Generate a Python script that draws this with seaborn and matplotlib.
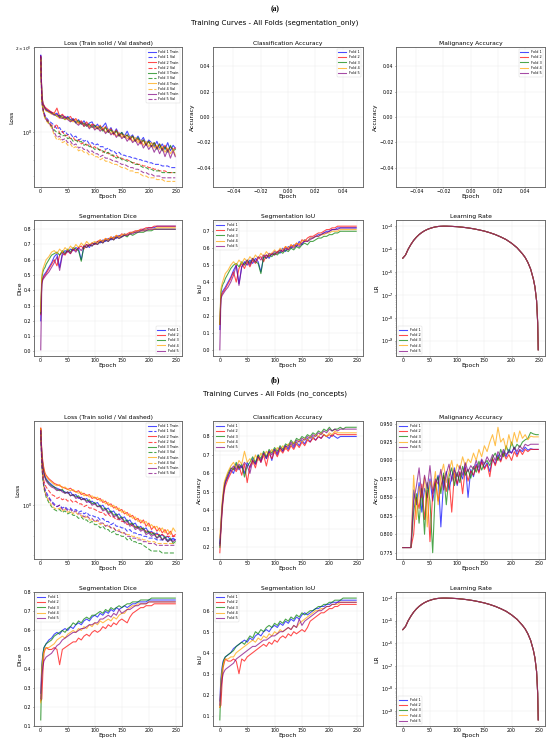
import matplotlib
matplotlib.use("Agg")
import matplotlib.pyplot as plt
import seaborn as sns

FOLD_COLORS = ["blue", "red", "green", "orange", "purple"]
FOLDS = ["Fold 1", "Fold 2", "Fold 3", "Fold 4", "Fold 5"]

EPOCHS = [0, 2, 4, 6, 8, 10,
          15, 20, 25, 30, 35, 40, 45, 50, 55, 60,
          65, 70, 75, 80, 85, 90, 95, 100, 105, 110,
          115, 120, 125, 130, 135, 140, 145, 150, 155, 160,
          165, 170, 175, 180, 185, 190, 195, 200, 205, 210,
          215, 220, 225, 230, 235, 240, 245, 249]

# ---------------- (a) segmentation_only ----------------
a_loss_train = [
    [1.88, 1.36, 1.26, 1.24, 1.22, 1.21,
     1.19, 1.18, 1.16, 1.17, 1.13, 1.15, 1.12, 1.14, 1.11, 1.12,
     1.09, 1.11, 1.07, 1.10, 1.06, 1.08, 1.09, 1.04, 1.07, 1.03,
     1.05, 1.08, 1.01, 1.04, 0.99, 1.03, 0.98, 1.00, 0.97, 1.01,
     0.96, 0.98, 0.94, 0.97, 0.93, 0.96, 0.91, 0.94, 0.92, 0.89,
     0.93, 0.88, 0.91, 0.87, 0.92, 0.86, 0.90, 0.88],
    [1.86, 1.38, 1.27, 1.25, 1.23, 1.22,
     1.20, 1.18, 1.17, 1.22, 1.14, 1.16, 1.13, 1.12, 1.14, 1.10,
     1.12, 1.08, 1.10, 1.06, 1.09, 1.05, 1.07, 1.06, 1.03, 1.06,
     1.02, 1.05, 1.00, 1.03, 0.98, 1.02, 0.97, 0.99, 0.96, 0.98,
     0.94, 0.97, 0.93, 0.95, 0.91, 0.94, 0.90, 0.93, 0.89, 0.92,
     0.88, 0.91, 0.87, 0.90, 0.86, 0.89, 0.87, 0.88],
    [1.84, 1.37, 1.25, 1.23, 1.21, 1.20,
     1.18, 1.17, 1.16, 1.14, 1.15, 1.13, 1.11, 1.13, 1.10, 1.11,
     1.08, 1.10, 1.07, 1.08, 1.05, 1.07, 1.04, 1.06, 1.03, 1.05,
     1.01, 1.04, 1.00, 1.02, 0.99, 1.01, 0.97, 1.00, 0.96, 0.98,
     0.95, 0.97, 0.93, 0.96, 0.92, 0.94, 0.90, 0.93, 0.89, 0.92,
     0.87, 0.91, 0.86, 0.89, 0.85, 0.90, 0.86, 0.87],
    [1.83, 1.35, 1.25, 1.22, 1.21, 1.19,
     1.18, 1.16, 1.17, 1.14, 1.12, 1.14, 1.11, 1.12, 1.10, 1.09,
     1.11, 1.07, 1.09, 1.05, 1.07, 1.04, 1.06, 1.03, 1.05, 1.02,
     1.04, 1.00, 1.03, 0.99, 1.01, 0.97, 1.00, 0.96, 0.98, 0.95,
     0.97, 0.93, 0.96, 0.92, 0.94, 0.90, 0.93, 0.89, 0.92, 0.88,
     0.90, 0.87, 0.89, 0.85, 0.88, 0.84, 0.87, 0.83],
    [1.87, 1.37, 1.26, 1.24, 1.22, 1.20,
     1.19, 1.17, 1.15, 1.16, 1.13, 1.12, 1.14, 1.11, 1.09, 1.11,
     1.08, 1.06, 1.09, 1.05, 1.07, 1.03, 1.06, 1.02, 1.04, 1.01,
     1.03, 0.99, 1.02, 0.98, 1.00, 0.96, 0.99, 0.95, 0.97, 0.93,
     0.96, 0.92, 0.94, 0.90, 0.93, 0.88, 0.91, 0.87, 0.90, 0.85,
     0.89, 0.84, 0.88, 0.82, 0.87, 0.81, 0.86, 0.82],
]
a_loss_val = [
    [1.88, 1.30, 1.22, 1.18, 1.15, 1.13,
     1.10, 1.08, 1.06, 1.03, 1.04, 1.00, 1.01, 0.98, 0.99, 0.96,
     0.97, 0.94, 0.95, 0.93, 0.94, 0.91, 0.92, 0.90, 0.91, 0.89,
     0.89, 0.87, 0.88, 0.86, 0.86, 0.84, 0.85, 0.83, 0.83, 0.82,
     0.82, 0.81, 0.81, 0.80, 0.80, 0.79, 0.79, 0.78, 0.78, 0.77,
     0.77, 0.77, 0.76, 0.76, 0.76, 0.75, 0.75, 0.75],
    [1.86, 1.31, 1.22, 1.17, 1.14, 1.12,
     1.09, 1.06, 1.04, 1.07, 0.99, 1.01, 0.97, 0.98, 0.95, 0.96,
     0.93, 0.94, 0.91, 0.92, 0.90, 0.91, 0.88, 0.89, 0.87, 0.87,
     0.85, 0.86, 0.84, 0.84, 0.82, 0.83, 0.81, 0.81, 0.80, 0.80,
     0.79, 0.78, 0.78, 0.77, 0.77, 0.76, 0.76, 0.75, 0.75, 0.74,
     0.74, 0.73, 0.73, 0.73, 0.72, 0.72, 0.72, 0.72],
    [1.84, 1.29, 1.21, 1.16, 1.13, 1.11,
     1.08, 1.05, 1.02, 1.00, 0.99, 0.97, 0.98, 0.95, 0.96, 0.93,
     0.94, 0.92, 0.93, 0.90, 0.91, 0.89, 0.89, 0.87, 0.88, 0.86,
     0.86, 0.84, 0.85, 0.83, 0.83, 0.81, 0.82, 0.80, 0.80, 0.79,
     0.79, 0.78, 0.77, 0.77, 0.76, 0.75, 0.75, 0.74, 0.74, 0.73,
     0.73, 0.73, 0.72, 0.72, 0.72, 0.72, 0.72, 0.72],
    [1.83, 1.28, 1.20, 1.15, 1.12, 1.10,
     1.07, 1.04, 0.98, 0.94, 0.95, 0.92, 0.93, 0.90, 0.91, 0.88,
     0.89, 0.86, 0.87, 0.85, 0.85, 0.83, 0.84, 0.82, 0.82, 0.80,
     0.81, 0.79, 0.79, 0.78, 0.77, 0.77, 0.76, 0.75, 0.75, 0.74,
     0.73, 0.73, 0.72, 0.72, 0.71, 0.70, 0.70, 0.69, 0.69, 0.69,
     0.68, 0.68, 0.68, 0.67, 0.67, 0.67, 0.67, 0.67],
    [1.87, 1.30, 1.21, 1.16, 1.13, 1.11,
     1.08, 1.05, 1.00, 0.96, 0.97, 0.94, 0.95, 0.92, 0.93, 0.90,
     0.91, 0.88, 0.89, 0.87, 0.87, 0.85, 0.86, 0.84, 0.84, 0.82,
     0.83, 0.81, 0.81, 0.80, 0.79, 0.79, 0.78, 0.77, 0.77, 0.76,
     0.75, 0.75, 0.74, 0.74, 0.73, 0.72, 0.72, 0.71, 0.71, 0.70,
     0.70, 0.70, 0.69, 0.69, 0.69, 0.69, 0.69, 0.69],
]
a_dice = [
    [0.20, 0.46, 0.48, 0.50, 0.51, 0.52,
     0.55, 0.58, 0.62, 0.64, 0.55, 0.64, 0.66, 0.65, 0.67, 0.66,
     0.68, 0.67, 0.60, 0.69, 0.70, 0.68, 0.71, 0.70, 0.72, 0.71,
     0.73, 0.72, 0.74, 0.73, 0.75, 0.74, 0.76, 0.75, 0.77, 0.76,
     0.77, 0.78, 0.78, 0.79, 0.79, 0.80, 0.80, 0.81, 0.81, 0.81,
     0.82, 0.82, 0.82, 0.82, 0.82, 0.82, 0.82, 0.82],
    [0.24, 0.45, 0.48, 0.49, 0.50, 0.51,
     0.54, 0.57, 0.60, 0.56, 0.63, 0.65, 0.63, 0.66, 0.64, 0.67,
     0.66, 0.68, 0.69, 0.67, 0.70, 0.69, 0.71, 0.70, 0.72, 0.73,
     0.72, 0.74, 0.73, 0.75, 0.74, 0.76, 0.75, 0.77, 0.76, 0.77,
     0.78, 0.78, 0.79, 0.79, 0.80, 0.80, 0.81, 0.81, 0.81, 0.82,
     0.82, 0.82, 0.82, 0.82, 0.82, 0.82, 0.82, 0.82],
    [0.25, 0.48, 0.52, 0.54, 0.55, 0.57,
     0.60, 0.63, 0.64, 0.65, 0.63, 0.66, 0.64, 0.67, 0.65, 0.68,
     0.67, 0.66, 0.59, 0.69, 0.68, 0.70, 0.69, 0.71, 0.70, 0.72,
     0.71, 0.73, 0.72, 0.74, 0.73, 0.75, 0.74, 0.75, 0.76, 0.75,
     0.77, 0.76, 0.77, 0.78, 0.78, 0.78, 0.79, 0.79, 0.79, 0.80,
     0.80, 0.80, 0.80, 0.80, 0.80, 0.80, 0.80, 0.80],
    [0.26, 0.50, 0.54, 0.56, 0.58, 0.60,
     0.62, 0.65, 0.66, 0.64, 0.67, 0.65, 0.68, 0.66, 0.69, 0.67,
     0.70, 0.68, 0.71, 0.69, 0.72, 0.70, 0.71, 0.72, 0.71, 0.73,
     0.72, 0.74, 0.73, 0.75, 0.74, 0.76, 0.75, 0.76, 0.77, 0.76,
     0.77, 0.78, 0.78, 0.79, 0.79, 0.79, 0.80, 0.80, 0.80, 0.80,
     0.81, 0.81, 0.81, 0.81, 0.81, 0.81, 0.81, 0.81],
    [0.01, 0.44, 0.47, 0.48, 0.49, 0.50,
     0.52, 0.55, 0.58, 0.62, 0.53, 0.63, 0.64, 0.66, 0.64, 0.67,
     0.65, 0.68, 0.66, 0.69, 0.68, 0.70, 0.69, 0.71, 0.70, 0.72,
     0.71, 0.73, 0.72, 0.74, 0.73, 0.75, 0.74, 0.75, 0.76, 0.76,
     0.77, 0.77, 0.78, 0.78, 0.79, 0.79, 0.79, 0.80, 0.80, 0.80,
     0.80, 0.80, 0.80, 0.80, 0.80, 0.80, 0.80, 0.80],
]
a_iou = [
    [0.12, 0.32, 0.34, 0.35, 0.36, 0.37,
     0.40, 0.43, 0.47, 0.50, 0.39, 0.49, 0.52, 0.50, 0.53, 0.51,
     0.54, 0.52, 0.46, 0.55, 0.56, 0.54, 0.57, 0.56, 0.58, 0.57,
     0.60, 0.58, 0.61, 0.60, 0.62, 0.61, 0.64, 0.62, 0.65, 0.64,
     0.66, 0.66, 0.67, 0.68, 0.68, 0.69, 0.70, 0.70, 0.71, 0.71,
     0.72, 0.72, 0.72, 0.72, 0.72, 0.72, 0.72, 0.72],
    [0.15, 0.31, 0.33, 0.34, 0.35, 0.36,
     0.39, 0.42, 0.46, 0.40, 0.48, 0.51, 0.48, 0.52, 0.49, 0.53,
     0.51, 0.54, 0.55, 0.52, 0.56, 0.55, 0.57, 0.56, 0.58, 0.59,
     0.58, 0.61, 0.59, 0.62, 0.61, 0.63, 0.62, 0.65, 0.64, 0.66,
     0.67, 0.67, 0.68, 0.69, 0.69, 0.70, 0.71, 0.71, 0.72, 0.72,
     0.73, 0.73, 0.73, 0.73, 0.73, 0.73, 0.73, 0.73],
    [0.15, 0.34, 0.37, 0.39, 0.40, 0.42,
     0.45, 0.48, 0.50, 0.51, 0.49, 0.52, 0.50, 0.53, 0.51, 0.54,
     0.52, 0.51, 0.45, 0.55, 0.54, 0.56, 0.55, 0.57, 0.56, 0.58,
     0.57, 0.59, 0.58, 0.60, 0.59, 0.61, 0.60, 0.62, 0.63, 0.62,
     0.64, 0.64, 0.65, 0.66, 0.66, 0.67, 0.67, 0.68, 0.68, 0.69,
     0.69, 0.70, 0.70, 0.70, 0.70, 0.70, 0.70, 0.70],
    [0.15, 0.36, 0.39, 0.41, 0.43, 0.45,
     0.47, 0.50, 0.52, 0.50, 0.53, 0.51, 0.54, 0.52, 0.55, 0.53,
     0.56, 0.54, 0.57, 0.55, 0.58, 0.56, 0.57, 0.59, 0.57, 0.60,
     0.59, 0.61, 0.60, 0.62, 0.61, 0.63, 0.62, 0.64, 0.65, 0.64,
     0.66, 0.66, 0.67, 0.67, 0.68, 0.68, 0.69, 0.69, 0.70, 0.70,
     0.70, 0.71, 0.71, 0.71, 0.71, 0.71, 0.71, 0.71],
    [0.00, 0.30, 0.32, 0.33, 0.34, 0.35,
     0.37, 0.40, 0.44, 0.50, 0.38, 0.49, 0.51, 0.53, 0.50, 0.54,
     0.52, 0.55, 0.53, 0.56, 0.54, 0.57, 0.56, 0.58, 0.57, 0.59,
     0.58, 0.60, 0.59, 0.61, 0.60, 0.62, 0.61, 0.63, 0.64, 0.64,
     0.65, 0.66, 0.67, 0.67, 0.68, 0.69, 0.69, 0.70, 0.71, 0.71,
     0.71, 0.72, 0.72, 0.72, 0.72, 0.72, 0.72, 0.72],
]

# learning rate (identical for all folds, both runs)
LR_EPOCHS = [0, 5, 10, 15, 20, 25, 30, 35, 40, 45, 50, 55, 60, 65, 70, 75,
             80, 90, 100, 110, 120, 130, 140, 150, 160, 170, 180, 190, 200,
             210, 220, 225, 230, 235, 240, 243, 246, 248, 249]
LR_VALUES = [4.0e-6, 5.5e-6, 1.0e-5, 1.6e-5, 2.4e-5, 3.3e-5, 4.3e-5, 5.3e-5,
             6.3e-5, 7.2e-5, 8.0e-5, 8.7e-5, 9.3e-5, 9.7e-5, 9.9e-5, 1.0e-4,
             9.98e-5, 9.8e-5, 9.5e-5, 9.0e-5, 8.4e-5, 7.7e-5, 6.9e-5, 6.1e-5,
             5.2e-5, 4.3e-5, 3.4e-5, 2.6e-5, 1.8e-5, 1.15e-5, 6.2e-6, 4.3e-6,
             2.6e-6, 1.35e-6, 5.0e-7, 2.2e-7, 5.5e-8, 6.0e-9, 4.0e-10]

# ---------------- (b) no_concepts ----------------
b_loss_train = [
    [1.72, 1.45, 1.33, 1.27, 1.23, 1.21,
     1.18, 1.16, 1.14, 1.13, 1.12, 1.11, 1.10, 1.09, 1.10, 1.07,
     1.08, 1.05, 1.06, 1.04, 1.05, 1.02, 1.03, 1.01, 1.02, 0.99,
     1.00, 0.97, 0.98, 0.95, 0.96, 0.93, 0.94, 0.91, 0.92, 0.89,
     0.90, 0.87, 0.88, 0.85, 0.86, 0.84, 0.85, 0.82, 0.83, 0.81,
     0.82, 0.80, 0.81, 0.79, 0.80, 0.78, 0.79, 0.78],
    [1.74, 1.47, 1.36, 1.30, 1.26, 1.24,
     1.21, 1.19, 1.17, 1.16, 1.15, 1.14, 1.13, 1.12, 1.13, 1.11,
     1.10, 1.11, 1.08, 1.09, 1.07, 1.08, 1.05, 1.06, 1.04, 1.05,
     1.02, 1.03, 1.00, 1.01, 0.98, 0.99, 0.96, 0.97, 0.94, 0.95,
     0.92, 0.93, 0.90, 0.91, 0.88, 0.90, 0.86, 0.88, 0.84, 0.86,
     0.83, 0.85, 0.82, 0.84, 0.81, 0.83, 0.80, 0.81],
    [1.70, 1.44, 1.32, 1.26, 1.22, 1.20,
     1.17, 1.15, 1.14, 1.12, 1.11, 1.12, 1.09, 1.10, 1.07, 1.08,
     1.06, 1.07, 1.04, 1.05, 1.03, 1.04, 1.01, 1.02, 0.99, 1.00,
     0.97, 0.98, 0.95, 0.96, 0.93, 0.94, 0.91, 0.92, 0.89, 0.90,
     0.87, 0.88, 0.85, 0.86, 0.84, 0.85, 0.82, 0.83, 0.81, 0.82,
     0.79, 0.81, 0.78, 0.80, 0.77, 0.79, 0.76, 0.77],
    [1.73, 1.46, 1.35, 1.29, 1.25, 1.23,
     1.20, 1.18, 1.16, 1.15, 1.16, 1.13, 1.14, 1.12, 1.11, 1.12,
     1.10, 1.09, 1.10, 1.07, 1.08, 1.06, 1.07, 1.05, 1.06, 1.03,
     1.04, 1.01, 1.02, 0.99, 1.00, 0.97, 0.98, 0.95, 0.96, 0.93,
     0.94, 0.91, 0.92, 0.89, 0.90, 0.88, 0.89, 0.86, 0.87, 0.85,
     0.86, 0.83, 0.85, 0.82, 0.84, 0.81, 0.85, 0.83],
    [1.71, 1.44, 1.32, 1.26, 1.22, 1.19,
     1.16, 1.14, 1.13, 1.11, 1.12, 1.10, 1.09, 1.10, 1.07, 1.08,
     1.05, 1.06, 1.04, 1.05, 1.02, 1.03, 1.00, 1.01, 0.99, 0.99,
     0.96, 0.97, 0.94, 0.95, 0.92, 0.93, 0.90, 0.91, 0.88, 0.89,
     0.86, 0.87, 0.84, 0.85, 0.83, 0.84, 0.81, 0.82, 0.80, 0.81,
     0.79, 0.80, 0.78, 0.79, 0.77, 0.78, 0.77, 0.78],
]
b_loss_val = [
    [1.72, 1.35, 1.22, 1.15, 1.12, 1.10,
     1.06, 1.03, 1.01, 0.99, 1.00, 0.98, 0.99, 0.97, 0.98, 0.96,
     0.97, 0.95, 0.96, 0.94, 0.95, 0.93, 0.93, 0.92, 0.92, 0.90,
     0.91, 0.89, 0.89, 0.87, 0.88, 0.86, 0.86, 0.85, 0.85, 0.83,
     0.84, 0.82, 0.82, 0.81, 0.81, 0.80, 0.80, 0.79, 0.79, 0.79,
     0.78, 0.78, 0.78, 0.78, 0.78, 0.78, 0.78, 0.78],
    [1.74, 1.38, 1.26, 1.19, 1.16, 1.14,
     1.11, 1.08, 1.07, 1.05, 1.06, 1.04, 1.05, 1.03, 1.04, 1.02,
     1.03, 1.01, 1.01, 0.99, 1.00, 0.98, 0.98, 0.97, 0.96, 0.95,
     0.95, 0.93, 0.94, 0.92, 0.92, 0.90, 0.91, 0.89, 0.89, 0.87,
     0.88, 0.86, 0.86, 0.85, 0.85, 0.84, 0.83, 0.83, 0.82, 0.82,
     0.81, 0.81, 0.81, 0.80, 0.80, 0.80, 0.80, 0.80],
    [1.70, 1.33, 1.20, 1.13, 1.09, 1.06,
     1.02, 0.99, 0.97, 0.96, 0.97, 0.95, 0.96, 0.94, 0.95, 0.93,
     0.93, 0.91, 0.92, 0.90, 0.90, 0.88, 0.89, 0.87, 0.87, 0.85,
     0.86, 0.84, 0.84, 0.82, 0.83, 0.81, 0.81, 0.80, 0.80, 0.78,
     0.79, 0.77, 0.77, 0.76, 0.76, 0.75, 0.74, 0.73, 0.72, 0.72,
     0.72, 0.72, 0.71, 0.71, 0.71, 0.71, 0.71, 0.71],
    [1.73, 1.34, 1.21, 1.14, 1.10, 1.07,
     1.03, 1.00, 0.98, 0.97, 0.98, 0.96, 0.97, 0.95, 0.96, 0.94,
     0.95, 0.93, 0.93, 0.91, 0.92, 0.90, 0.90, 0.89, 0.89, 0.87,
     0.88, 0.86, 0.86, 0.85, 0.85, 0.83, 0.84, 0.82, 0.82, 0.81,
     0.81, 0.80, 0.80, 0.79, 0.79, 0.78, 0.78, 0.77, 0.77, 0.77,
     0.76, 0.76, 0.76, 0.76, 0.76, 0.76, 0.76, 0.76],
    [1.71, 1.34, 1.22, 1.15, 1.11, 1.08,
     1.05, 1.02, 1.00, 0.99, 1.00, 0.97, 0.98, 0.96, 0.97, 0.95,
     0.96, 0.94, 0.94, 0.92, 0.93, 0.91, 0.91, 0.89, 0.90, 0.88,
     0.88, 0.86, 0.87, 0.85, 0.85, 0.83, 0.83, 0.82, 0.82, 0.80,
     0.80, 0.79, 0.79, 0.78, 0.78, 0.77, 0.77, 0.76, 0.76, 0.76,
     0.75, 0.75, 0.75, 0.75, 0.75, 0.75, 0.75, 0.75],
]
b_cls_acc = [
    [0.22, 0.30, 0.40, 0.47, 0.52, 0.55,
     0.58, 0.62, 0.60, 0.65, 0.62, 0.64, 0.60, 0.66, 0.63, 0.68,
     0.65, 0.70, 0.66, 0.71, 0.68, 0.72, 0.67, 0.73, 0.70, 0.74,
     0.72, 0.75, 0.73, 0.76, 0.74, 0.77, 0.75, 0.78, 0.76, 0.79,
     0.77, 0.80, 0.78, 0.80, 0.79, 0.81, 0.80, 0.79, 0.81, 0.80,
     0.79, 0.80, 0.80, 0.80, 0.80, 0.80, 0.80, 0.80],
    [0.17, 0.28, 0.38, 0.45, 0.50, 0.53,
     0.57, 0.60, 0.63, 0.61, 0.64, 0.59, 0.65, 0.55, 0.64, 0.67,
     0.63, 0.69, 0.66, 0.70, 0.64, 0.71, 0.68, 0.72, 0.69, 0.73,
     0.71, 0.74, 0.72, 0.75, 0.73, 0.76, 0.74, 0.77, 0.75, 0.78,
     0.77, 0.79, 0.78, 0.80, 0.79, 0.81, 0.80, 0.81, 0.80, 0.82,
     0.81, 0.81, 0.81, 0.81, 0.81, 0.81, 0.81, 0.81],
    [0.20, 0.32, 0.42, 0.48, 0.53, 0.56,
     0.60, 0.63, 0.62, 0.66, 0.63, 0.65, 0.58, 0.64, 0.66, 0.69,
     0.66, 0.70, 0.68, 0.72, 0.69, 0.73, 0.71, 0.74, 0.72, 0.75,
     0.73, 0.76, 0.75, 0.78, 0.76, 0.79, 0.78, 0.80, 0.79, 0.81,
     0.80, 0.82, 0.81, 0.83, 0.82, 0.84, 0.83, 0.85, 0.83, 0.84,
     0.84, 0.85, 0.84, 0.85, 0.85, 0.85, 0.85, 0.85],
    [0.25, 0.34, 0.44, 0.50, 0.55, 0.57,
     0.61, 0.64, 0.66, 0.63, 0.67, 0.65, 0.72, 0.66, 0.68, 0.65,
     0.70, 0.67, 0.71, 0.69, 0.72, 0.70, 0.73, 0.71, 0.74, 0.72,
     0.75, 0.73, 0.76, 0.75, 0.77, 0.76, 0.78, 0.77, 0.79, 0.78,
     0.80, 0.79, 0.81, 0.80, 0.82, 0.81, 0.80, 0.82, 0.81, 0.83,
     0.82, 0.82, 0.82, 0.82, 0.82, 0.82, 0.82, 0.82],
    [0.21, 0.31, 0.41, 0.47, 0.52, 0.55,
     0.59, 0.62, 0.64, 0.62, 0.65, 0.63, 0.66, 0.64, 0.60, 0.67,
     0.65, 0.69, 0.67, 0.71, 0.68, 0.72, 0.70, 0.73, 0.71, 0.74,
     0.72, 0.75, 0.74, 0.77, 0.75, 0.78, 0.77, 0.79, 0.78, 0.80,
     0.79, 0.81, 0.80, 0.82, 0.81, 0.83, 0.82, 0.84, 0.83, 0.84,
     0.83, 0.84, 0.84, 0.84, 0.84, 0.84, 0.84, 0.84],
]
b_mal_acc = [
    [0.782, 0.782, 0.782, 0.782, 0.782, 0.782,
     0.782, 0.860, 0.840, 0.870, 0.830, 0.862, 0.850, 0.875, 0.845, 0.868,
     0.880, 0.810, 0.872, 0.885, 0.860, 0.878, 0.890, 0.866, 0.884, 0.875,
     0.895, 0.850, 0.888, 0.878, 0.895, 0.885, 0.900, 0.890, 0.897, 0.885,
     0.902, 0.895, 0.908, 0.900, 0.912, 0.905, 0.915, 0.910, 0.918, 0.908,
     0.915, 0.912, 0.918, 0.914, 0.916, 0.915, 0.915, 0.915],
    [0.782, 0.782, 0.782, 0.782, 0.782, 0.782,
     0.782, 0.800, 0.850, 0.835, 0.868, 0.820, 0.860, 0.790, 0.855, 0.872,
     0.845, 0.865, 0.880, 0.858, 0.876, 0.830, 0.882, 0.868, 0.885, 0.855,
     0.890, 0.872, 0.886, 0.880, 0.893, 0.883, 0.898, 0.888, 0.895, 0.878,
     0.903, 0.893, 0.905, 0.898, 0.910, 0.902, 0.908, 0.900, 0.912, 0.905,
     0.914, 0.908, 0.915, 0.912, 0.915, 0.915, 0.915, 0.915],
    [0.782, 0.782, 0.782, 0.782, 0.782, 0.782,
     0.782, 0.830, 0.855, 0.815, 0.862, 0.800, 0.870, 0.845, 0.775, 0.866,
     0.878, 0.855, 0.883, 0.840, 0.878, 0.890, 0.866, 0.884, 0.870, 0.892,
     0.880, 0.888, 0.876, 0.892, 0.884, 0.899, 0.887, 0.896, 0.900, 0.893,
     0.904, 0.910, 0.900, 0.915, 0.905, 0.920, 0.910, 0.925, 0.915, 0.922,
     0.918, 0.925, 0.928, 0.930, 0.938, 0.936, 0.935, 0.935],
    [0.782, 0.782, 0.782, 0.782, 0.782, 0.782,
     0.782, 0.880, 0.820, 0.865, 0.850, 0.878, 0.810, 0.872, 0.860, 0.885,
     0.840, 0.880, 0.895, 0.870, 0.885, 0.900, 0.878, 0.895, 0.888, 0.905,
     0.892, 0.902, 0.897, 0.910, 0.900, 0.915, 0.905, 0.920, 0.912, 0.925,
     0.935, 0.920, 0.945, 0.925, 0.930, 0.915, 0.935, 0.920, 0.938, 0.925,
     0.940, 0.930, 0.935, 0.928, 0.933, 0.932, 0.932, 0.932],
    [0.782, 0.782, 0.782, 0.782, 0.782, 0.782,
     0.782, 0.845, 0.865, 0.890, 0.850, 0.880, 0.862, 0.893, 0.855, 0.875,
     0.868, 0.888, 0.860, 0.882, 0.895, 0.872, 0.887, 0.878, 0.893, 0.880,
     0.897, 0.885, 0.893, 0.888, 0.900, 0.890, 0.902, 0.895, 0.905, 0.898,
     0.908, 0.900, 0.912, 0.905, 0.915, 0.908, 0.912, 0.910, 0.918, 0.912,
     0.920, 0.915, 0.922, 0.920, 0.922, 0.922, 0.922, 0.922],
]
b_dice = [
    [0.27, 0.42, 0.48, 0.51, 0.52, 0.53,
     0.55, 0.56, 0.58, 0.59, 0.58, 0.60, 0.61, 0.60, 0.62, 0.61,
     0.63, 0.64, 0.63, 0.65, 0.66, 0.65, 0.67, 0.68, 0.67, 0.69,
     0.68, 0.70, 0.69, 0.71, 0.70, 0.72, 0.71, 0.72, 0.73, 0.72,
     0.73, 0.74, 0.74, 0.75, 0.75, 0.75, 0.75, 0.76, 0.76, 0.76,
     0.76, 0.76, 0.76, 0.76, 0.76, 0.76, 0.76, 0.76],
    [0.23, 0.24, 0.38, 0.48, 0.50, 0.51,
     0.50, 0.50, 0.51, 0.50, 0.42, 0.50, 0.51, 0.52, 0.53, 0.54,
     0.54, 0.56, 0.55, 0.57, 0.58, 0.57, 0.59, 0.60, 0.59, 0.60,
     0.62, 0.61, 0.63, 0.62, 0.64, 0.63, 0.65, 0.66, 0.65, 0.64,
     0.67, 0.69, 0.70, 0.71, 0.72, 0.72, 0.73, 0.73, 0.73, 0.74,
     0.74, 0.74, 0.74, 0.74, 0.74, 0.74, 0.74, 0.74],
    [0.13, 0.40, 0.47, 0.51, 0.52, 0.53,
     0.54, 0.55, 0.57, 0.58, 0.59, 0.60, 0.59, 0.61, 0.62, 0.64,
     0.63, 0.65, 0.64, 0.66, 0.67, 0.66, 0.68, 0.68, 0.69, 0.70,
     0.69, 0.71, 0.70, 0.72, 0.71, 0.72, 0.73, 0.72, 0.73, 0.74,
     0.74, 0.75, 0.75, 0.75, 0.76, 0.76, 0.76, 0.76, 0.77, 0.77,
     0.77, 0.77, 0.77, 0.77, 0.77, 0.77, 0.77, 0.77],
    [0.22, 0.40, 0.46, 0.49, 0.50, 0.51,
     0.51, 0.52, 0.53, 0.55, 0.56, 0.57, 0.56, 0.58, 0.59, 0.60,
     0.59, 0.61, 0.60, 0.62, 0.61, 0.63, 0.62, 0.64, 0.63, 0.65,
     0.64, 0.65, 0.66, 0.65, 0.67, 0.66, 0.68, 0.69, 0.69, 0.71,
     0.72, 0.73, 0.73, 0.74, 0.74, 0.74, 0.74, 0.75, 0.75, 0.75,
     0.75, 0.75, 0.75, 0.75, 0.75, 0.75, 0.75, 0.75],
    [0.24, 0.36, 0.41, 0.44, 0.45, 0.46,
     0.47, 0.48, 0.50, 0.52, 0.53, 0.55, 0.56, 0.57, 0.58, 0.59,
     0.59, 0.60, 0.61, 0.61, 0.62, 0.63, 0.63, 0.64, 0.64, 0.66,
     0.66, 0.67, 0.68, 0.67, 0.69, 0.68, 0.71, 0.69, 0.70, 0.71,
     0.71, 0.72, 0.73, 0.73, 0.74, 0.74, 0.74, 0.75, 0.75, 0.75,
     0.75, 0.75, 0.75, 0.75, 0.75, 0.75, 0.75, 0.75],
]
b_iou = [
    [0.17, 0.28, 0.33, 0.36, 0.37, 0.38,
     0.39, 0.40, 0.42, 0.43, 0.44, 0.45, 0.46, 0.45, 0.47, 0.46,
     0.48, 0.49, 0.48, 0.50, 0.51, 0.50, 0.52, 0.53, 0.52, 0.54,
     0.53, 0.55, 0.54, 0.56, 0.55, 0.57, 0.56, 0.58, 0.59, 0.58,
     0.59, 0.60, 0.61, 0.61, 0.62, 0.62, 0.63, 0.63, 0.64, 0.64,
     0.64, 0.65, 0.65, 0.65, 0.65, 0.65, 0.65, 0.65],
    [0.14, 0.15, 0.25, 0.33, 0.35, 0.37,
     0.36, 0.36, 0.37, 0.36, 0.30, 0.37, 0.36, 0.38, 0.39, 0.40,
     0.41, 0.42, 0.43, 0.44, 0.43, 0.45, 0.44, 0.46, 0.45, 0.47,
     0.48, 0.47, 0.49, 0.48, 0.50, 0.49, 0.50, 0.51, 0.50, 0.52,
     0.55, 0.56, 0.57, 0.58, 0.59, 0.59, 0.60, 0.61, 0.61, 0.62,
     0.62, 0.63, 0.63, 0.63, 0.63, 0.63, 0.63, 0.63],
    [0.08, 0.25, 0.31, 0.35, 0.37, 0.38,
     0.39, 0.40, 0.41, 0.43, 0.44, 0.45, 0.44, 0.46, 0.48, 0.47,
     0.50, 0.49, 0.51, 0.50, 0.52, 0.53, 0.52, 0.54, 0.53, 0.55,
     0.54, 0.56, 0.55, 0.57, 0.56, 0.58, 0.57, 0.59, 0.58, 0.59,
     0.60, 0.60, 0.61, 0.62, 0.62, 0.63, 0.63, 0.64, 0.64, 0.65,
     0.65, 0.65, 0.66, 0.66, 0.66, 0.66, 0.66, 0.66],
    [0.14, 0.26, 0.31, 0.34, 0.36, 0.37,
     0.37, 0.38, 0.38, 0.40, 0.41, 0.42, 0.43, 0.44, 0.45, 0.46,
     0.45, 0.47, 0.46, 0.48, 0.47, 0.49, 0.48, 0.50, 0.49, 0.51,
     0.50, 0.51, 0.52, 0.51, 0.53, 0.52, 0.54, 0.55, 0.56, 0.57,
     0.58, 0.59, 0.60, 0.60, 0.61, 0.61, 0.62, 0.62, 0.63, 0.63,
     0.63, 0.64, 0.64, 0.64, 0.64, 0.64, 0.64, 0.64],
    [0.15, 0.23, 0.27, 0.30, 0.31, 0.32,
     0.33, 0.34, 0.35, 0.37, 0.38, 0.39, 0.40, 0.41, 0.42, 0.43,
     0.43, 0.44, 0.45, 0.46, 0.46, 0.47, 0.48, 0.48, 0.49, 0.50,
     0.50, 0.51, 0.52, 0.51, 0.53, 0.52, 0.56, 0.53, 0.55, 0.56,
     0.57, 0.58, 0.59, 0.60, 0.60, 0.61, 0.62, 0.62, 0.63, 0.63,
     0.64, 0.64, 0.64, 0.64, 0.64, 0.64, 0.64, 0.64],
]

# ---------------- figure ----------------
W, H = 550, 749
DPI = 30
fig = plt.figure(figsize=(W / DPI, H / DPI), dpi=DPI)

COLS = [(34, 182), (213, 363), (396, 545)]
ROWS = [(47, 187), (220, 356), (421, 559), (592, 726)]
LW = 2.6
ALPHA = 0.7


def make_ax(r, c):
    (top, bottom), (left, right) = ROWS[r], COLS[c]
    return fig.add_axes([left / W, 1 - bottom / H, (right - left) / W, (bottom - top) / H])


def finish(ax, title, ylabel, loc):
    ax.set_title(title, fontsize=14.5, pad=4)
    ax.set_xlabel("Epoch", fontsize=14.5, labelpad=0)
    ax.set_ylabel(ylabel, fontsize=14.5, labelpad=3)
    ax.tick_params(labelsize=11.5, length=3.5, width=1.2, pad=2)
    ax.grid(True, alpha=0.3)
    for sp in ax.spines.values():
        sp.set_color("#666666")
        sp.set_linewidth(2.2)
    ax.legend(loc=loc, fontsize=8.5, handlelength=2.2, borderpad=0.4,
              labelspacing=0.35, framealpha=0.8)


def loss_panel(ax, train, val, loc):
    for i in range(5):
        sns.lineplot(x=EPOCHS, y=train[i], ax=ax, color=FOLD_COLORS[i], alpha=ALPHA,
                     linewidth=LW, label=f"{FOLDS[i]} Train")
        sns.lineplot(x=EPOCHS, y=val[i], ax=ax, color=FOLD_COLORS[i], alpha=ALPHA,
                     linewidth=LW, linestyle="--", label=f"{FOLDS[i]} Val")
    ax.set_yscale("log")
    finish(ax, "Loss (Train solid / Val dashed)", "Loss", loc)


def fold_panel(ax, series, title, ylabel, loc):
    for i in range(5):
        sns.lineplot(x=EPOCHS, y=series[i], ax=ax, color=FOLD_COLORS[i], alpha=ALPHA,
                     linewidth=LW, label=FOLDS[i])
    finish(ax, title, ylabel, loc)


def empty_panel(ax, title, ylabel, loc):
    for i in range(5):
        ax.plot([], [], color=FOLD_COLORS[i], alpha=ALPHA, linewidth=LW, label=FOLDS[i])
    ax.set_xlim(-0.055, 0.055)
    ax.set_ylim(-0.055, 0.055)
    finish(ax, title, ylabel, loc)


def lr_panel(ax):
    for i in range(5):
        sns.lineplot(x=LR_EPOCHS, y=LR_VALUES, ax=ax, color=FOLD_COLORS[i], alpha=ALPHA,
                     linewidth=LW, label=FOLDS[i])
    ax.set_yscale("log")
    finish(ax, "Learning Rate", "LR", "lower left")


# (a)
fig.text(0.5, 1 - 9 / H, "(a)", ha="center", va="center", fontsize=18,
         fontweight="bold", family="Liberation Serif")
fig.text(0.5, 1 - 23 / H, "Training Curves - All Folds (segmentation_only)",
         ha="center", va="center", fontsize=17)
ax = make_ax(0, 0)
loss_panel(ax, a_loss_train, a_loss_val, "upper right")
ax.set_ylim(0.64, 2.01)
empty_panel(make_ax(0, 1), "Classification Accuracy", "Accuracy", "upper right")
empty_panel(make_ax(0, 2), "Malignancy Accuracy", "Accuracy", "upper right")
fold_panel(make_ax(1, 0), a_dice, "Segmentation Dice", "Dice", "lower right")
fold_panel(make_ax(1, 1), a_iou, "Segmentation IoU", "IoU", "upper left")
lr_panel(make_ax(1, 2))

# (b)
fig.text(0.5, 1 - 380 / H, "(b)", ha="center", va="center", fontsize=18,
         fontweight="bold", family="Liberation Serif")
fig.text(0.5, 1 - 394 / H, "Training Curves - All Folds (no_concepts)",
         ha="center", va="center", fontsize=17)
ax = make_ax(2, 0)
loss_panel(ax, b_loss_train, b_loss_val, "upper right")
ax.set_ylim(0.68, 1.83)
fold_panel(make_ax(2, 1), b_cls_acc, "Classification Accuracy", "Accuracy", "upper left")
fold_panel(make_ax(2, 2), b_mal_acc, "Malignancy Accuracy", "Accuracy", "upper left")
fold_panel(make_ax(3, 0), b_dice, "Segmentation Dice", "Dice", "upper left")
fold_panel(make_ax(3, 1), b_iou, "Segmentation IoU", "IoU", "upper left")
lr_panel(make_ax(3, 2))

fig.savefig("out.png", dpi=DPI, facecolor="white")
plt.close(fig)
